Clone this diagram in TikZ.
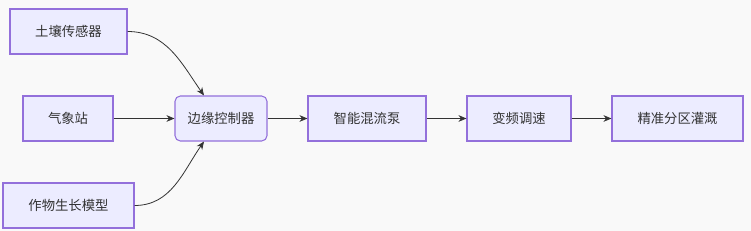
\documentclass[tikz,border=0pt]{standalone}
\usepackage{fontspec}
\setmainfont{Noto Sans CJK SC}
\usepackage{tikz}
\usetikzlibrary{positioning,arrows.meta,calc}
\definecolor{boxfill}{HTML}{ECECFF}
\definecolor{boxline}{HTML}{9370DB}
\definecolor{ink}{HTML}{333333}
\definecolor{paper}{HTML}{F9F9F9}

\begin{document}
\begin{tikzpicture}[
        x=0.75pt, y=-0.75pt,
        box/.style={draw=boxline, fill=boxfill, minimum height=33.75pt,
                    align=center, font=\fontsize{10}{12}\selectfont, text=ink,
                    inner sep=0pt, line width=0.8pt},
        flow/.style={-{Stealth[length=6pt,width=5pt]}, ink, line width=0.6pt},
      ]
        % background and margins
        \fill[paper] (0,0) rectangle (751,231);
        \useasboundingbox (0,0) rectangle (751,231);
        % inputs
        \node[box, minimum width=87.75pt] (soil) at (68.5,31.5) {土壤传感器};
        \node[box, minimum width=67.5pt] (weather) at (68,118.5) {气象站};
        \node[box, minimum width=98.25pt] (model) at (68.5,205.5) {作物生长模型};
        % main chain
        \node[box, rounded corners=4pt, minimum width=69pt] (edge) at (221,118.5) {边缘控制器};
        \node[box, minimum width=88.5pt] (pump) at (367,118.5) {智能混流泵};
        \node[box, minimum width=78pt] (vfd) at (519,118.5) {变频调速};
        \node[box, minimum width=98.25pt] (zone) at (677.5,118.5) {精准分区灌溉};
        % connectors into the controller
        \draw[flow] (soil.east) to[out=0, in=125] ($(edge.north)+(-17,0)$);
        \draw[flow] (weather) -- (edge);
        \draw[flow] (model.east) to[out=0, in=235] ($(edge.south)+(-17,0)$);
        % chain
        \draw[flow] (edge) -- (pump);
        \draw[flow] (pump) -- (vfd);
        \draw[flow] (vfd) -- (zone);
      \end{tikzpicture}
\end{document}
